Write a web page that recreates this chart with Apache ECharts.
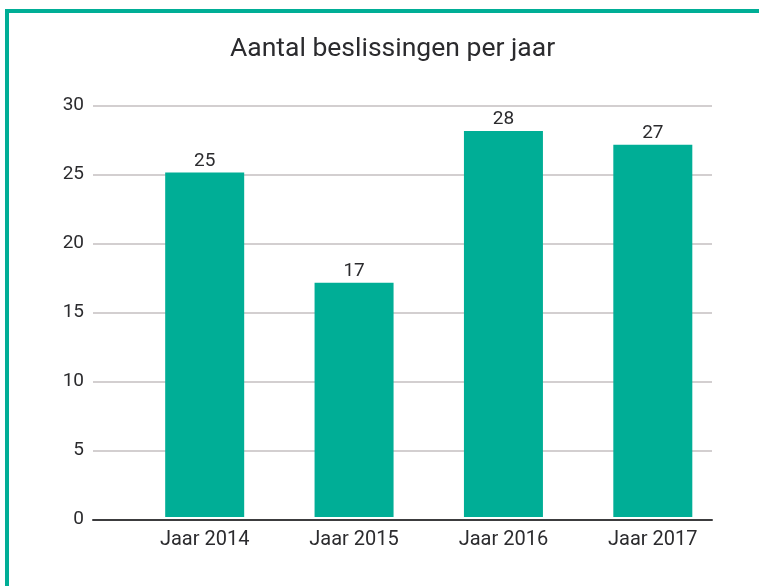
<!DOCTYPE html>
<html>
<head>
<meta charset="utf-8">
<script src="https://cdn.jsdelivr.net/npm/echarts@6/dist/echarts.min.js"></script>
<style>html,body{margin:0;padding:0;background:#fff}#c{width:759px;height:586px}</style>
</head>
<body>
<div id="c"></div>
<script>
const titleText = 'Aantal beslissingen per jaar';
const categories = ['Jaar 2014', 'Jaar 2015', 'Jaar 2016', 'Jaar 2017'];
const values = [25, 17, 28, 27];
const yTicks = { min: 0, max: 30, interval: 5 };

const teal = '#00ae96';
const textColor = '#2b2b2e';
const fontFamily = 'Roboto, "Open Sans", sans-serif';

const chart = echarts.init(document.getElementById('c'));
chart.setOption({
  animation: false,
  backgroundColor: '#fff',
  title: {
    text: titleText,
    left: 225,
    top: 31,
    textStyle: { fontFamily, fontSize: 26.5, fontWeight: 'normal', color: textColor }
  },
  graphic: [
    { type: 'rect', shape: { x: 5, y: 9, width: 754, height: 4 }, style: { fill: teal } },
    { type: 'rect', shape: { x: 5, y: 9, width: 4, height: 577 }, style: { fill: teal } }
  ],
  grid: [
    { left: 93, right: 47, top: 105.7, bottom: 66.7 },
    { left: 130, right: 31.5, top: 103.5, bottom: 69 }
  ],
  xAxis: [
    {
      type: 'category', gridIndex: 0, data: categories,
      axisLine: { show: true, lineStyle: { color: '#3c3c3e', width: 2 } },
      axisTick: { show: false }, axisLabel: { show: false }
    },
    {
      type: 'category', gridIndex: 1, data: categories,
      axisLine: { show: false }, axisTick: { show: false },
      axisLabel: { margin: 13, fontFamily, fontSize: 20, color: textColor }
    }
  ],
  yAxis: [
    {
      type: 'value', gridIndex: 0, min: yTicks.min, max: yTicks.max, interval: yTicks.interval,
      axisLine: { show: false }, axisTick: { show: false },
      axisLabel: { margin: 9, fontFamily, fontSize: 19, color: textColor },
      splitLine: { lineStyle: { color: '#d3cfd0', width: 2 } }
    },
    {
      type: 'value', gridIndex: 1, min: yTicks.min, max: yTicks.max, interval: yTicks.interval,
      show: false, splitLine: { show: false }
    }
  ],
  series: [{
    type: 'bar', xAxisIndex: 1, yAxisIndex: 1, data: values, barWidth: 79,
    itemStyle: { color: teal },
    label: { show: true, position: 'top', distance: 2, fontFamily, fontSize: 19, color: textColor }
  }]
});
</script>
</body>
</html>
